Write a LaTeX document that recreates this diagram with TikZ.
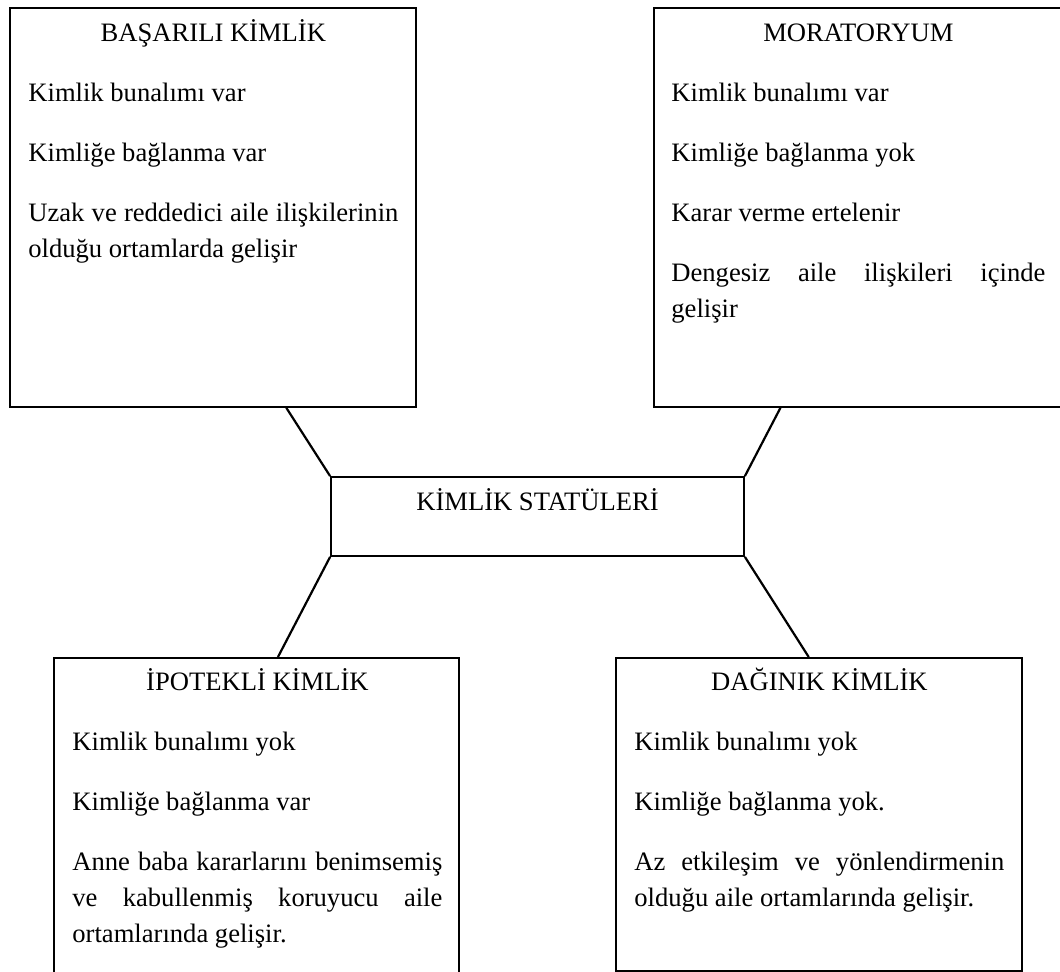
\documentclass[tikz,border=0pt]{standalone}
\usepackage{fontspec}
\setmainfont{Liberation Serif}
\usetikzlibrary{calc}
\hyphenpenalty=10000
\exhyphenpenalty=10000
\tolerance=10000

\tikzset{
  kutu/.style={draw, line width=0.9pt, rectangle, inner sep=0pt, anchor=north west},
  metin/.style={anchor=base west, inner sep=0pt, text width=185pt, align=justify,
    font=\fontsize{13.3pt}{18pt}\selectfont},
  bag/.style={line width=1.1pt}
}

\begin{document}
\begin{tikzpicture}[x=0.5pt, y=-0.5pt]
    \useasboundingbox (0,0) rectangle (1060,972);
    \clip (0,0) rectangle (1060,972);

    % the four boxes
    \node[kutu, minimum width=203pt, minimum height=199.5pt] (basarili) at (9,7) {};
    \node[kutu, minimum width=206pt, minimum height=199.5pt] (moratoryum) at (653,7) {};
    \node[kutu, minimum width=202.5pt, minimum height=164pt] (ipotekli) at (53,657) {};
    \node[kutu, minimum width=203pt, minimum height=156.5pt] (daginik) at (615,657) {};

    % middle box
    \node[draw, line width=0.9pt, anchor=base, inner sep=0pt, minimum width=206.5pt,
      text height=17pt, text depth=22.5pt, font=\fontsize{13.3pt}{18pt}\selectfont]
      (statu) at (537.5,511) {KİMLİK STATÜLERİ};

    % texts
    \node[metin] (basariliM) at (28,42) {\makebox[\linewidth]{BAŞARILI KİMLİK}\\[12pt]
      Kimlik bunalımı var\\[12pt]
      Kimliğe bağlanma var\\[12pt]
      Uzak ve reddedici aile ilişkilerinin olduğu ortamlarda gelişir};
    \node[metin, text width=187pt] (moratoryumM) at (671,42) {\makebox[\linewidth]{MORATORYUM}\\[12pt]
      Kimlik bunalımı var\\[12pt]
      Kimliğe bağlanma yok\\[12pt]
      Karar verme ertelenir\\[12pt]
      Dengesiz aile ilişkileri içinde gelişir};
    \node[metin] (ipotekliM) at (72,690) {\makebox[\linewidth]{İPOTEKLİ KİMLİK}\\[12pt]
      Kimlik bunalımı yok\\[12pt]
      Kimliğe bağlanma var\\[12pt]
      Anne baba kararlarını benimsemiş ve kabullenmiş koruyucu aile ortamlarında gelişir.};
    \node[metin] (daginikM) at (634,690) {\makebox[\linewidth]{DAĞINIK KİMLİK}\\[12pt]
      Kimlik bunalımı yok\\[12pt]
      Kimliğe bağlanma yok.\\[12pt]
      Az etkileşim ve yönlendirmenin olduğu aile ortamlarında gelişir.};

    % connectors
    \draw[bag] (statu.north west) -- ($(basarili.south west)!0.68!(basarili.south east)$);
    \draw[bag] (statu.north east) -- ($(moratoryum.south west)!0.308!(moratoryum.south east)$);
    \draw[bag] (statu.south west) -- ($(ipotekli.north west)!0.553!(ipotekli.north east)$);
    \draw[bag] (statu.south east) -- ($(daginik.north west)!0.475!(daginik.north east)$);
\end{tikzpicture}
\end{document}
